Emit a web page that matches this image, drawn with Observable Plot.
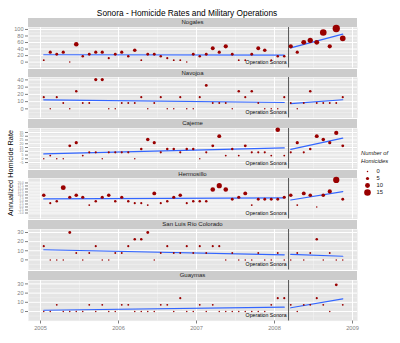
<!DOCTYPE html>
<html><head><meta charset="utf-8">
<script src="https://cdn.jsdelivr.net/npm/d3@7"></script>
<script src="https://cdn.jsdelivr.net/npm/@observablehq/plot@0.6"></script>
<style>
body{margin:0;background:#fff;font-family:"Liberation Sans",Arial,Helvetica,sans-serif;}
#root{position:relative;width:400px;height:343px;overflow:hidden;background:#fff;}
.strip{position:absolute;left:28px;width:329px;background:#CCCCCC;font-size:6px;text-align:center;color:#1a1a1a;white-space:nowrap;}
.panel{position:absolute;left:0;}
#title{position:absolute;top:8px;left:187px;transform:translateX(-50%);font-size:8.3px;white-space:nowrap;color:#000;}
#ytitle{position:absolute;left:10px;top:173px;transform:translate(-50%,-50%) rotate(-90deg);font-size:7.3px;white-space:nowrap;color:#000;}
#legtitle{position:absolute;left:361px;top:150px;font-size:5.8px;font-style:italic;line-height:7.6px;color:#1a1a1a;}
#legend{position:absolute;left:361px;top:162px;}
</style></head>
<body><div id="root">
<div id="title">Sonora - Homicide Rates and Military Operations</div>
<div id="ytitle">Annualized Homicide Rate</div>
<div id="legtitle">Number of<br>Homicides</div>
<div id="legend"></div>
</div>
<script>
// ---- data (monthly, Jan 2005 - Nov 2008) ----
const cities = ["Nogales", "Navojoa", "Cajeme", "Hermosillo", "San Luis Río Colorado", "Guaymas"];
const opDate = 2008.18; // Operation Sonora start (decimal year)
const opLabel = "Operation Sonora";

const nogalesRate = [6.1,30.3,24.2,30.3,0,54.5,18.2,24.2,30.3,30.3,12.1,24.2,30.3,18.2,36.3,6.1,24.2,24.2,18.2,12.1,6.1,6.1,0,24.2,18.2,24.2,42.4,30.3,48.4,24.2,6.1,6.1,24.2,42.4,36.3,6.1,18.2,18.2,48.4,30.3,60.5,66.6,60.5,90.8,48.4,102.9,72.6];
const nogalesCount = [1,5,4,5,0,9,3,4,5,5,2,4,5,3,6,1,4,4,3,2,1,1,0,4,3,4,7,5,8,4,1,1,4,7,6,1,3,3,8,5,10,11,10,15,8,17,12];

const navojoaRate = [16.2,0,16.2,8.1,0,24.3,8.1,8.1,40.5,40.5,0,0,8.1,8.1,8.1,16.2,0,8.1,16.2,0,0,16.2,0,0,16.2,32.4,8.1,8.1,8.1,0,24.3,16.2,24.3,8.1,0,0,0,16.2,8.1,0,8.1,24.3,8.1,8.1,8.1,8.1,16.2];
const navojoaCount = [2,0,2,1,0,3,1,1,5,5,0,0,1,1,1,2,0,1,2,0,0,2,0,0,2,4,1,1,1,0,3,2,3,1,0,0,0,2,1,0,1,3,1,1,1,1,2];

const cajemeRate = [0,4.3,0,0,17.2,21.5,4.3,8.6,8.6,0,8.6,8.6,8.6,8.6,0,12.9,25.8,21.5,8.6,12.9,12.9,8.6,12.9,12.9,0,8.6,17.2,30.1,4.3,12.9,4.3,17.2,8.6,8.6,8.6,4.3,38.7,4.3,8.6,21.5,8.6,12.9,30.1,25.8,21.5,34.4,17.2];
const cajemeCount = [0,1,0,0,4,5,1,2,2,0,2,2,2,2,0,3,6,5,2,3,3,2,3,3,0,2,4,7,1,3,1,4,2,2,2,1,9,1,2,5,2,3,7,6,5,8,4];

const hermosilloRate = [9.7,3.2,4.8,16.1,8.1,9.7,8.1,1.6,4.8,8.1,9.7,4.8,8.1,4.8,3.2,3.2,1.6,11.3,3.2,4.8,8.1,9.7,3.2,4.8,4.8,4.8,14.5,17.7,14.5,6.4,8.1,11.3,1.6,6.4,6.4,6.4,6.4,8.1,9.7,1.6,11.3,9.7,0,9.7,12.9,22.5,6.4];
const hermosilloCount = [6,2,3,10,5,6,5,1,3,5,6,3,5,3,2,2,1,7,2,3,5,6,2,3,3,3,9,11,9,4,5,7,1,4,4,4,4,5,6,1,7,6,0,6,8,14,4];

const slrcRate = [15,0,0,0,30,7.5,0,7.5,15,0,0,7.5,7.5,15,22.5,22.5,30,0,7.5,15,7.5,7.5,15,7.5,15,7.5,15,15,0,7.5,0,0,0,7.5,0,0,7.5,0,0,7.5,0,7.5,22.5,0,7.5,0,0];
const slrcCount = [2,0,0,0,4,1,0,1,2,0,0,1,1,2,3,3,4,0,1,2,1,1,2,1,2,1,2,2,0,1,0,0,0,1,0,0,1,0,0,1,0,1,3,0,1,0,0];

const guaymasRate = [0,0,7.3,0,0,0,0,7.3,0,7.3,0,0,7.3,7.3,0,0,0,0,7.3,7.3,0,14.5,0,0,7.3,0,7.3,0,0,0,0,0,0,0,0,7.3,14.5,14.5,7.3,0,7.3,7.3,14.5,7.3,0,29,7.3];
const guaymasCount = [0,0,1,0,0,0,0,1,0,1,0,0,1,1,0,0,0,0,1,1,0,2,0,0,1,0,1,0,0,0,0,0,0,0,0,1,2,2,1,0,1,1,2,1,0,4,1];

// tick labels
const xTicks = [2005, 2006, 2007, 2008, 2009];
const xMinor = [2005.5, 2006.5, 2007.5, 2008.5];
const nogalesTicks = [0,20,40,60,80,100];
const nogalesMinor = [-10,10,30,50,70,90];
const navojoaTicks = [0,10,20,30,40];
const navojoaMinor = [-10,-5,5,15,25,35];
const cajemeTicks = [-5,0,5,10,15,20,25,30,35];
const cajemeMinor = [-10,-7.5,-2.5,2.5,7.5,12.5,17.5,22.5,27.5,32.5,37.5];
const hermosilloTicks = [-5,-2.5,0,2.5,5,7.5,10,12.5,15,17.5,20];
const hermosilloMinor = [-8.75,-6.25,-3.75,-1.25,1.25,3.75,6.25,8.75,11.25,13.75,16.25,18.75,21.25];
const slrcTicks = [0,10,20,30];
const slrcMinor = [-10,-5,5,15,25];
const guaymasTicks = [0,10,20,30];
const guaymasMinor = [-10,-5,5,15,25];
const legendValues = [0,5,10,15];

// ---- build ----
const months = d3.utcMonths(new Date(Date.UTC(2005,0,1)), new Date(Date.UTC(2008,11,1)));
const decYear = d => d.getUTCFullYear() + (d.getUTCMonth() + 0.5) / 12;

const panels = [
  {rate: nogalesRate, count: nogalesCount, domain: [-18, 106], ticks: nogalesTicks, minor: nogalesMinor, fmt: "d", fs: 5.6},
  {rate: navojoaRate, count: navojoaCount, domain: [-12.6, 43.3], ticks: navojoaTicks, minor: navojoaMinor, fmt: "d", fs: 5.6},
  {rate: cajemeRate, count: cajemeCount, domain: [-13.6, 40.3], ticks: cajemeTicks, minor: cajemeMinor, fmt: "d", fs: 3.5},
  {rate: hermosilloRate, count: hermosilloCount, domain: [-10, 23.7], ticks: hermosilloTicks, minor: hermosilloMinor, fmt: ".1f", fs: 2.9},
  {rate: slrcRate, count: slrcCount, domain: [-11.1, 33.3], ticks: slrcTicks, minor: slrcMinor, fmt: "d", fs: 5.6},
  {rate: guaymasRate, count: guaymasCount, domain: [-10.3, 33.7], ticks: guaymasTicks, minor: guaymasMinor, fmt: "d", fs: 5.6}
];

const rScale = {type: "linear", domain: [1, 16], range: [0.75, 3.3]};
const pointColor = "#990000";
const font = "Liberation Sans, Arial, sans-serif";
const root = document.getElementById("root");

panels.forEach((p, i) => {
  const top = 18 + 50.6 * i;
  const strip = document.createElement("div");
  strip.className = "strip";
  strip.style.top = top + "px";
  strip.style.height = "8.5px";
  strip.style.lineHeight = "8.5px";
  strip.textContent = cities[i];
  root.appendChild(strip);

  const data = months.map((d, k) => ({
    x: decYear(d), rate: p.rate[k], size: p.count[k] + 1,
    period: decYear(d) < opDate ? "before" : "after"
  }));
  const last = i === panels.length - 1;
  const marks = [
    Plot.frame({fill: "#E5E5E5", stroke: "none"}),
    Plot.ruleX(xMinor, {stroke: "#F2F2F2", strokeWidth: 0.6}),
    Plot.ruleY(p.minor, {stroke: "#F2F2F2", strokeWidth: 0.6}),
    Plot.ruleX(xTicks, {stroke: "#FFFFFF", strokeWidth: 1}),
    Plot.ruleY(p.ticks, {stroke: "#FFFFFF", strokeWidth: 1}),
    Plot.ruleX([opDate], {stroke: "#555555", strokeWidth: 1}),
    Plot.text([opLabel], {x: opDate, frameAnchor: "bottom", text: d => d, textAnchor: "end", dx: -2, dy: -4.5, fontSize: 5.2, fill: "#000"}),
    Plot.linearRegressionY(data, {x: "x", y: "rate", z: "period", stroke: "#3366FF", strokeWidth: 1.2, ci: 0}),
    Plot.dot(data, {x: "x", y: "rate", r: "size", fill: pointColor, stroke: "none"}),
    Plot.axisY(p.ticks, {tickSize: 3, tickPadding: 2, fontSize: p.fs, fill: "#7F7F7F", stroke: "#7F7F7F", label: null, tickFormat: p.fmt})
  ];
  if (last) marks.push(Plot.axisX(xTicks, {tickSize: 3, tickPadding: 1.5, fontSize: 5.7, fill: "#7F7F7F", stroke: "#7F7F7F", label: null, tickFormat: "d"}));
  const chart = Plot.plot({
    width: 400,
    height: 40.5 + (last ? 14 : 0),
    marginLeft: 28, marginRight: 43, marginTop: 0, marginBottom: last ? 14 : 0,
    x: Object.assign({domain: [2004.846, 2009.064]}, last ? {} : {axis: null}),
    y: {domain: p.domain},
    r: rScale,
    style: {background: "transparent", overflow: "visible", fontFamily: font},
    marks
  });
  const wrap = document.createElement("div");
  wrap.className = "panel";
  wrap.style.top = (top + 8.5) + "px";
  wrap.appendChild(chart);
  root.appendChild(wrap);
});

const legend = Plot.plot({
  width: 36, height: 40, margin: 0,
  x: {domain: [0, 36], range: [0, 36], axis: null},
  y: {type: "point", domain: legendValues, range: [4, 34], axis: null},
  r: rScale,
  style: {background: "transparent", overflow: "visible", fontFamily: font},
  marks: [
    Plot.dot(legendValues, {x: () => 6, y: d => d, r: d => d + 1, fill: pointColor, stroke: "none"}),
    Plot.text(legendValues, {x: () => 15, y: d => d, text: d => String(d), textAnchor: "start", fontSize: 5.8, fill: "#1a1a1a"})
  ]
});
document.getElementById("legend").appendChild(legend);
</script>
</body></html>
